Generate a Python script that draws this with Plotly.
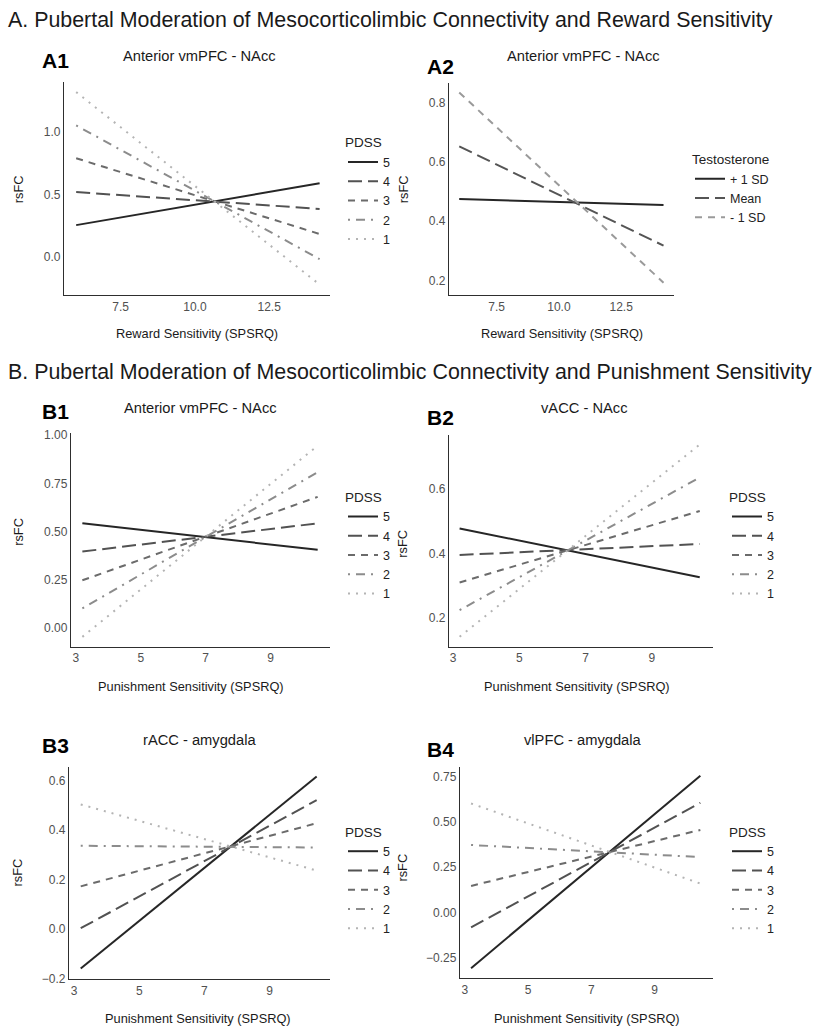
import plotly.graph_objects as go

W, H = 816, 1033

# ---------------- data ----------------
pdss_levels = ["5", "4", "3", "2", "1"]
testo_levels = ["+ 1 SD", "Mean", "- 1 SD"]

reward_x = [6.0, 14.2]
punish_x = [3.2, 10.45]

a1_low = [0.254, 0.519, 0.790, 1.053, 1.320]
a1_high = [0.590, 0.384, 0.183, -0.018, -0.222]
a2_low = [0.474, 0.652, 0.834]
a2_high = [0.454, 0.317, 0.192]
b1_low = [0.543, 0.397, 0.248, 0.103, -0.045]
b1_high = [0.406, 0.543, 0.680, 0.808, 0.945]
b2_low = [0.478, 0.396, 0.311, 0.225, 0.143]
b2_high = [0.327, 0.430, 0.532, 0.636, 0.738]
b3_low = [-0.160, 0.003, 0.172, 0.336, 0.503]
b3_high = [0.616, 0.520, 0.427, 0.329, 0.236]
b4_low = [-0.308, -0.083, 0.146, 0.372, 0.601]
b4_high = [0.754, 0.605, 0.455, 0.305, 0.159]

# ---------------- styles ----------------
FONT = "Liberation Sans, Arial, Helvetica, sans-serif"
pdss_colors = ["#262626", "#525252", "#6b6b6b", "#8c8c8c", "#b4b4b4"]
pdss_dash = ["solid", "14px,6px", "7px,6px", "2px,6px,9px,6px", "2px,6px"]
testo_colors = ["#262626", "#555555", "#9a9a9a"]
testo_dash = ["solid", "14px,6px", "7px,6px"]


def px(x):
    return x / W


def py(y):
    return 1 - y / H


fig = go.Figure()

panels = [
    dict(x=reward_x, lo=a1_low, hi=a1_high, lv=pdss_levels, c=pdss_colors, d=pdss_dash,
         xr=[5.59, 14.55], yr=[-0.307, 1.399], dx=(64, 330), dy=(79, 294),
         xt=[7.5, 10, 12.5], xf=".1f", yt=[0, 0.5, 1.0], yf=".1f"),
    dict(x=reward_x, lo=a2_low, hi=a2_high, lv=testo_levels, c=testo_colors, d=testo_dash,
         xr=[5.59, 14.62], yr=[0.150, 0.865], dx=(449, 674), dy=(80, 294),
         xt=[7.5, 10, 12.5], xf=".1f", yt=[0.2, 0.4, 0.6, 0.8], yf=".1f"),
    dict(x=punish_x, lo=b1_low, hi=b1_high, lv=pdss_levels, c=pdss_colors, d=pdss_dash,
         xr=[2.85, 10.83], yr=[-0.096, 1.012], dx=(71, 330), dy=(433, 649),
         xt=[3, 5, 7, 9], xf="d", yt=[0, 0.25, 0.5, 0.75, 1.0], yf=".2f"),
    dict(x=punish_x, lo=b2_low, hi=b2_high, lv=pdss_levels, c=pdss_colors, d=pdss_dash,
         xr=[2.88, 10.85], yr=[0.112, 0.768], dx=(449, 713), dy=(435, 649),
         xt=[3, 5, 7, 9], xf="d", yt=[0.2, 0.4, 0.6], yf=".1f"),
    dict(x=punish_x, lo=b3_low, hi=b3_high, lv=pdss_levels, c=pdss_colors, d=pdss_dash,
         xr=[2.84, 10.86], yr=[-0.204, 0.656], dx=(69, 330), dy=(770, 985),
         xt=[3, 5, 7, 9], xf="d", yt=[-0.2, 0, 0.2, 0.4, 0.6], yf=".1f"),
    dict(x=punish_x, lo=b4_low, hi=b4_high, lv=pdss_levels, c=pdss_colors, d=pdss_dash,
         xr=[2.85, 10.85], yr=[-0.365, 0.805], dx=(460, 713), dy=(770, 984),
         xt=[3, 5, 7, 9], xf="d", yt=[-0.25, 0, 0.25, 0.5, 0.75], yf=".2f"),
]

legend_pos = [(343, 127, "PDSS"), (690, 144, "Testosterone"), (343, 485, "PDSS"),
              (727, 485, "PDSS"), (343, 823, "PDSS"), (727, 823, "PDSS")]

layout_axes = {}
for i, p in enumerate(panels):
    k = "" if i == 0 else str(i + 1)
    leg = "legend" if i == 0 else "legend" + str(i + 1)
    for j, name in enumerate(p["lv"]):
        fig.add_trace(go.Scatter(
            x=p["x"], y=[p["lo"][j], p["hi"][j]], mode="lines", name=name,
            line=dict(color=p["c"][j], width=2, dash=p["d"][j]),
            xaxis="x" + k, yaxis="y" + k, legend=leg, showlegend=True,
        ))
    ax = dict(showgrid=False, zeroline=False, showline=True, linecolor="#2e2e2e", linewidth=1.3,
              ticks="", tickfont=dict(family=FONT, size=12, color="#505050"))
    layout_axes["xaxis" + k] = dict(ax, range=p["xr"], domain=[px(p["dx"][0]), px(p["dx"][1])],
                                    anchor="y" + k, tickvals=p["xt"], tickformat=p["xf"])
    layout_axes["yaxis" + k] = dict(ax, range=p["yr"], domain=[py(p["dy"][1]), py(p["dy"][0])],
                                    anchor="x" + k, tickvals=p["yt"], tickformat=p["yf"])
    lx, ly, title = legend_pos[i]
    layout_axes[leg] = dict(x=px(lx), y=py(ly), xanchor="left", yanchor="top",
                            xref="paper", yref="paper", bgcolor="rgba(0,0,0,0)",
                            title=dict(text=title, font=dict(family=FONT, size=13.5, color="#222222")),
                            font=dict(family=FONT, size=12.5, color="#222222"),
                            itemwidth=30, tracegroupgap=0)

annotations = []


def text(x, y, s, size, bold=False, anchor="center", angle=0, color="#1a1a1a"):
    annotations.append(dict(x=px(x), y=py(y), xref="paper", yref="paper", text=("<b>%s</b>" % s) if bold else s,
                            showarrow=False, xanchor=anchor, yanchor="middle", textangle=angle,
                            font=dict(family=FONT, size=size, color=color)))


text(6, 16, "A. Pubertal Moderation of Mesocorticolimbic Connectivity and Reward Sensitivity", 21.4, anchor="left")
text(6, 372, "B. Pubertal Moderation of Mesocorticolimbic Connectivity and Punishment Sensitivity", 21.4, anchor="left")

for lab, x, y in [("A1", 40, 57), ("A2", 425, 63), ("B1", 40, 411), ("B2", 425, 418), ("B3", 40, 749), ("B4", 425, 753)]:
    text(x, y, lab, 21, bold=True, anchor="left", color="#000000")

for s, x, y in [("Anterior vmPFC - NAcc", 199, 53), ("Anterior vmPFC - NAcc", 583, 53),
                ("Anterior vmPFC - NAcc", 200, 408), ("vACC - NAcc", 584, 408),
                ("rACC - amygdala", 199, 743), ("vlPFC - amygdala", 583, 743)]:
    text(x, y, s, 14.7)

for s, x, y in [("Reward Sensitivity (SPSRQ)", 197, 333), ("Reward Sensitivity (SPSRQ)", 562, 333),
                ("Punishment Sensitivity (SPSRQ)", 191, 689), ("Punishment Sensitivity (SPSRQ)", 577, 689),
                ("Punishment Sensitivity (SPSRQ)", 198, 1024), ("Punishment Sensitivity (SPSRQ)", 587, 1024)]:
    text(x, y, s, 12.8)

for x, y in [(18, 187), (403, 187), (19, 533), (403, 545), (18, 877), (403, 872)]:
    text(x, y, "rsFC", 12.8, angle=-90)

fig.update_layout(
    width=W, height=H, margin=dict(l=0, r=0, t=0, b=0),
    paper_bgcolor="white", plot_bgcolor="white",
    annotations=annotations, **layout_axes,
)

fig.write_html("out.html", config={"displayModeBar": False},
               post_script="document.body.style.margin='0';document.body.style.overflow='hidden';")
